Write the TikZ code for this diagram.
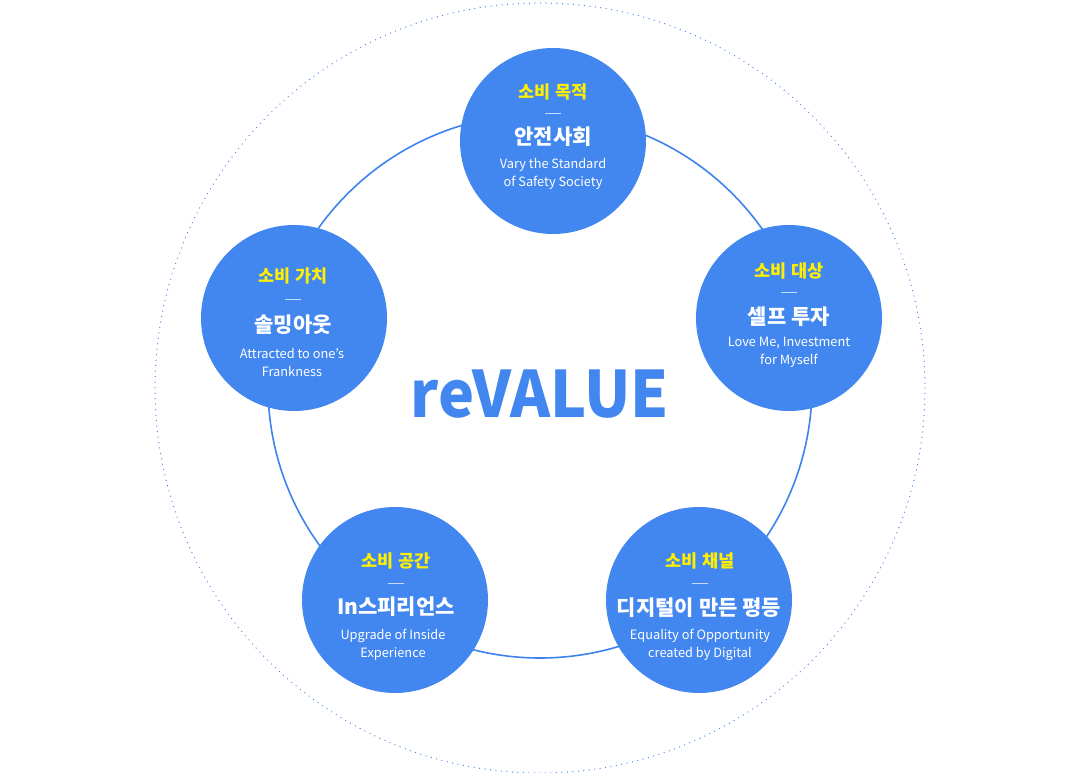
\documentclass[tikz,border=0pt]{standalone}
\usepackage{fontspec}
\setmainfont{Noto Sans CJK KR}
\definecolor{ValueBlue}{RGB}{66,134,240}
\definecolor{RingBlue}{RGB}{62,130,238}
\definecolor{TopicYellow}{RGB}{255,240,0}
\usetikzlibrary{positioning}

\begin{document}
\begin{tikzpicture}[x=1pt, y=-1pt,
	pillar/.style={circle, fill=ValueBlue, minimum size=186pt, inner sep=0pt},
	topic/.style={text=TopicYellow, font=\bfseries\fontsize{17.5}{20}\selectfont},
	headline/.style={text=white, font=\bfseries\fontsize{21}{22}\selectfont},
	motto/.style={text=white, align=center, font=\fontsize{12.8}{18}\selectfont},
	sepline/.style={white!70!ValueBlue, line width=0.9pt}]

	\useasboundingbox (0,0) rectangle (1080,773);

	% outer dotted ring and inner ring
	\draw[RingBlue, line width=1.3pt, line cap=round, dash pattern=on 0pt off 5.5pt]
		(540,388) circle[radius=385];
	\draw[RingBlue, line width=1.6pt] (540,386) circle[radius=272];

	\node[pillar] (goal)    at (553,141) {};
	\node[pillar] (worth)   at (294,318) {};
	\node[pillar] (target)  at (789,318) {};
	\node[pillar] (space)   at (395,600) {};
	\node[pillar] (channel) at (699,600) {};

	\node[text=ValueBlue, xscale=0.95, font=\bfseries\fontsize{64}{70}\selectfont] (brand) at (540,394) {reVALUE};

	% top
	\node[topic]    (goal-t) at (553,92)  {소비 목적};
	\draw[sepline] (545,113) -- (561,113);
	\node[headline] (goal-h) at (553,137) {안전사회};
	\node[motto]    (goal-m) at (553,174) {Vary the Standard\\of Safety Society};

	% left
	\node[topic]    (worth-t) at (293,276) {소비 가치};
	\draw[sepline] (285,299) -- (301,299);
	\node[headline] (worth-h) at (293,325) {솔밍아웃};
	\node[motto]    (worth-m) at (292,362) {Attracted to one's\\Frankness};

	% right
	\node[topic]    (target-t) at (789,271) {소비 대상};
	\draw[sepline] (781,292) -- (797,292);
	\node[headline] (target-h) at (789,317) {셀프 투자};
	\node[motto]    (target-m) at (789,352) {Love Me, Investment\\for Myself};

	% bottom left
	\node[topic]    (space-t) at (396,561) {소비 공간};
	\draw[sepline] (388,583) -- (404,583);
	\node[headline] (space-h) at (396,607) {In스피리언스};
	\node[motto]    (space-m) at (393,645) {Upgrade of Inside\\Experience};

	% bottom right
	\node[topic]    (channel-t) at (700,561) {소비 채널};
	\draw[sepline] (692,583) -- (708,583);
	\node[headline] (channel-h) at (699,608) {디지털이 만든 평등};
	\node[motto]    (channel-m) at (700,645) {Equality of Opportunity\\created by Digital};
\end{tikzpicture}
\end{document}
